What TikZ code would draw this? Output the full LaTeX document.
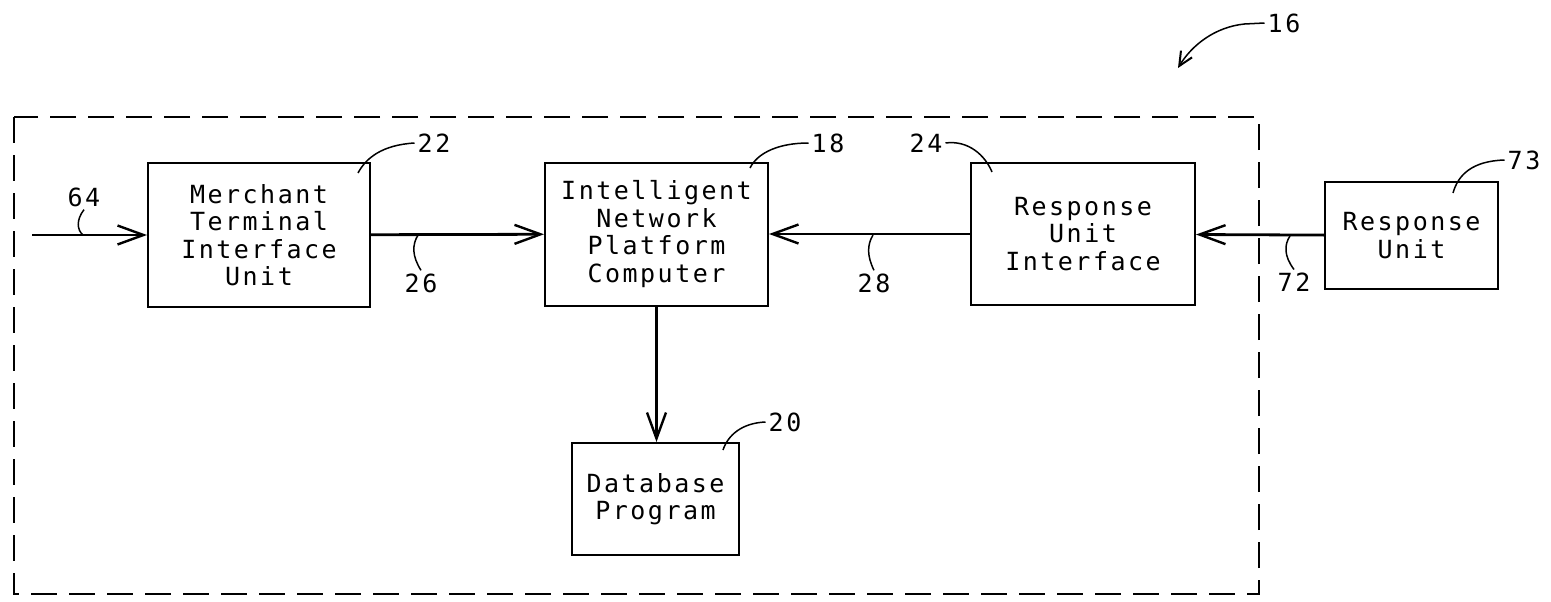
\documentclass[tikz,border=0pt]{standalone}
\usepackage{fontspec}
\newfontfamily\plotfont{DejaVu Sans Mono}[LetterSpace=10]
\usetikzlibrary{arrows.meta}

\tikzset{
  unitbox/.style={draw, line width=2pt, align=center, inner sep=0pt,
    font=\plotfont\fontsize{25}{27.5}\selectfont},
  reflabel/.style={inner sep=3pt, font=\plotfont\fontsize{25}{27.5}\selectfont},
  flow/.style={line width=2.8pt, -{Straight Barb[length=26pt,width=19pt,line width=2.4pt]}},
  leader/.style={line width=1.5pt},
}

\begin{document}
\begin{tikzpicture}[x=1pt, y=-1pt]
\useasboundingbox (0,0) rectangle (1551,602);

% system boundary
\draw[line width=2pt, dash pattern=on 26pt off 12pt] (14,117) rectangle (1259,594);

% blocks
\node[unitbox, minimum width=222pt, minimum height=144pt] (merchant) at (259,235)
  {Merchant\\Terminal\\Interface\\Unit};
\node[unitbox, minimum width=223pt, minimum height=143pt] (platform) at (656.5,234)
  {Intelligent\\Network\\Platform\\Computer};
\node[unitbox, minimum width=224pt, minimum height=142pt] (respif) at (1083,234)
  {Response\\Unit\\Interface};
\node[unitbox, minimum width=173pt, minimum height=107pt] (respunit) at (1411.5,235.5)
  {Response\\Unit};
\node[unitbox, minimum width=167pt, minimum height=112pt] (database) at (655.5,499)
  {Database\\Program};

% connections
\coordinate (in64) at (32,235);
\draw[flow] (in64) -- (merchant.west);
\draw[flow] (merchant) -- (platform);
\draw[flow] (respif) -- (platform);
\draw[flow] (respunit) -- (respif);
\draw[flow] (platform.south) -- (platform.south |- database.north);

% reference numerals
\node[reflabel] (l64) at (84,197) {64};
\node[reflabel] (l22) at (434,143) {22};
\node[reflabel] (l26) at (421,283) {26};
\node[reflabel] (l18) at (828,143) {18};
\node[reflabel] (l24) at (926,143) {24};
\node[reflabel] (l28) at (874,283) {28};
\node[reflabel] (l20) at (785,422) {20};
\node[reflabel] (l73) at (1524,160) {73};
\node[reflabel] (l72) at (1294,282) {72};
\node[reflabel] (l16) at (1284,23) {16};

\coordinate (c64) at (83,235);
\coordinate (c22) at (358,173);
\coordinate (c26) at (418,235);
\coordinate (c18) at (750,168);
\coordinate (c24) at (992,172);
\coordinate (c28) at (873,235);
\coordinate (c20) at (723,450);
\coordinate (c73) at (1453,193);
\coordinate (c72) at (1290,236);
\coordinate (c16) at (1178,68);

\draw[leader] (l64.south) .. controls (76,220) and (77,230) .. (c64);
\draw[leader] (l22.west) .. controls (382,145) and (366,158) .. (c22);
\draw[leader] (l26.north) .. controls (412,256) and (412,245) .. (c26);
\draw[leader] (l18.west) .. controls (780,143) and (758,152) .. (c18);
\draw[leader] (l24.east) .. controls (968,140) and (985,155) .. (c24);
\draw[leader] (l28.north) .. controls (867,256) and (867,245) .. (c28);
\draw[leader] (l20.west) .. controls (742,423) and (728,435) .. (c20);
\draw[leader] (l73.west) .. controls (1472,161) and (1458,175) .. (c73);
\draw[leader] (l72.north) .. controls (1284,256) and (1284,245) .. (c72);
\draw[leader, -{Straight Barb[length=14pt,width=13pt,line width=2pt]}]
  (l16.west) -- ++(-20,1) .. controls (1215,27) and (1192,45) .. (c16);
\end{tikzpicture}
\end{document}
